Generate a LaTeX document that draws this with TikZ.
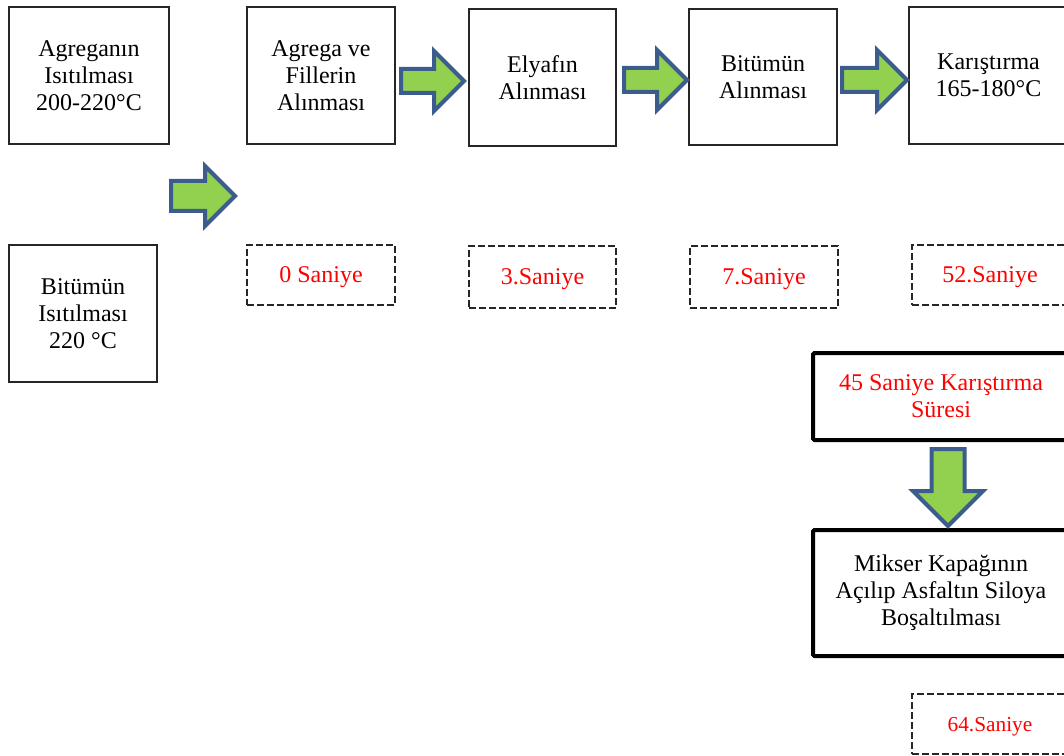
\documentclass[tikz,border=0pt]{standalone}
\usepackage{fontspec}
\setmainfont{Liberation Serif}
\usetikzlibrary{shapes.arrows}
\newlength\pxu
\setlength\pxu{0.75pt}
\definecolor{arrowfill}{HTML}{92D050}
\definecolor{arrowline}{HTML}{3B5C8C}
\tikzset{
  txt/.style={font=\fontsize{18}{20.25}\selectfont, align=center, inner sep=0pt},
  stepbox/.style={txt, draw=black!85, line width=1pt},
  timebox/.style={txt, draw=black!85, line width=1pt, dash pattern=on 5pt off 2.5pt,
    text=red, text depth=0pt},
  heavybox/.style={txt, draw=black, line width=3pt, rounded corners=1pt},
  blockarrow/.style={single arrow, draw=arrowline, fill=arrowfill, line width=3pt,
    line join=miter, inner sep=0pt, anchor=tail},
}
\begin{document}
\begin{tikzpicture}[x=0.75pt, y=-0.75pt]
\useasboundingbox (0,0) rectangle (1064,756);
\clip (0,0) rectangle (1064,756);
% process steps, top row
\node[stepbox, minimum width=160\pxu, minimum height=137\pxu] (b1) at (89,75.5) {Agreganın\\Isıtılması\\200-220°C};
\node[stepbox, minimum width=148\pxu, minimum height=137\pxu] (b2) at (321,75.5) {Agrega ve\\Fillerin\\Alınması};
\node[stepbox, minimum width=147\pxu, minimum height=137\pxu] (b3) at (542.5,77.5) {Elyafın\\Alınması};
\node[stepbox, minimum width=148\pxu, minimum height=136\pxu] (b4) at (763,77) {Bitümün\\Alınması};
\node[stepbox, minimum width=159\pxu, minimum height=137\pxu] (b5) at (988.5,75.5) {Karıştırma\\165-180°C};
% bitumen heating
\node[stepbox, minimum width=148\pxu, minimum height=137\pxu] (b6) at (83,313.5) {Bitümün\\Isıtılması\\220 °C};
% timing labels
\node[timebox, minimum width=148\pxu, minimum height=60\pxu] (t1) at (321,275) {0 Saniye};
\node[timebox, minimum width=147\pxu, minimum height=62\pxu] (t2) at (542.5,277) {3.Saniye};
\node[timebox, minimum width=148\pxu, minimum height=62\pxu] (t3) at (764,277) {7.Saniye};
\node[timebox, minimum width=156\pxu, minimum height=60\pxu] (t4) at (990,275) {52.Saniye};
% mixing and discharge
\node[heavybox, text=red, minimum width=256\pxu, minimum height=87\pxu] (m1) at (941,396.5) {45 Saniye Karıştırma\\Süresi};
\node[heavybox, minimum width=256\pxu, minimum height=126\pxu] (m2) at (941,593) {Mikser Kapağının\\Açılıp Asfaltın Siloya\\Boşaltılması};
\node[timebox, font=\fontsize{16}{18}\selectfont, minimum width=156\pxu, minimum height=60\pxu] (t5) at (990,724) {64.Saniye};
% block arrows: shaft thickness = twice the inner sep across the arrow
\node[blockarrow, inner ysep=13\pxu, minimum height=64\pxu, single arrow head extend=15\pxu] (a0) at (169,196) {};
\node[blockarrow, inner ysep=10\pxu, minimum height=63\pxu, single arrow head extend=18\pxu] (a1) at (399,81) {};
\node[blockarrow, inner ysep=10\pxu, minimum height=63\pxu, single arrow head extend=18\pxu] (a2) at (622,80) {};
\node[blockarrow, inner ysep=10\pxu, minimum height=65\pxu, single arrow head extend=18\pxu] (a3) at (840,80) {};
\node[blockarrow, shape border rotate=270, inner xsep=14.5\pxu, minimum height=77\pxu, single arrow head extend=18.5\pxu] (a4) at (948,447) {};
\end{tikzpicture}
\end{document}
